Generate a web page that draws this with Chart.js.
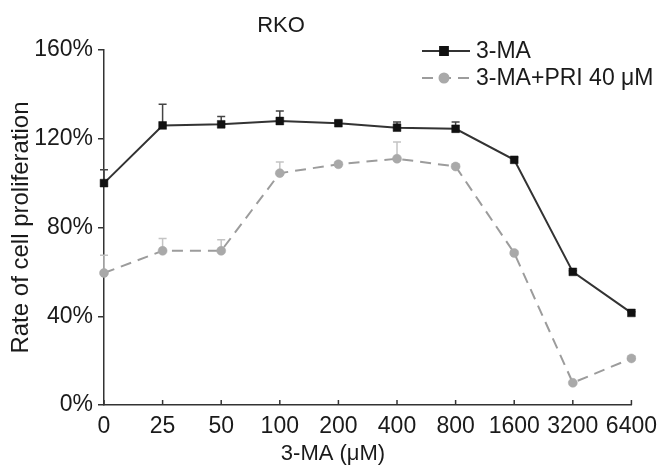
<!DOCTYPE html>
<html>
<head>
<meta charset="utf-8">
<script src="https://cdn.jsdelivr.net/npm/chart.js@4.4.1/dist/chart.umd.min.js"></script>
<style>
  html, body { margin: 0; padding: 0; background: #fff; }
  #wrap { width: 665px; height: 468px; }
</style>
</head>
<body>
<div id="wrap"><canvas id="chart" width="665" height="468"></canvas></div>
<script>
const doses = ['0', '25', '50', '100', '200', '400', '800', '1600', '3200', '6400'];
const maOnly = [100, 126, 126.5, 128, 127, 125, 124.5, 110.5, 60, 41.5];
const maOnlyErr = [6, 9.5, 3.5, 4.5, 1, 2.5, 3, 1, 0.5, 0.5];
const maPri = [59.5, 69.5, 69.5, 104.5, 108.5, 111, 107.5, 68.5, 10, 21];
const maPriErr = [8, 5.5, 5, 5, 1, 7.5, 1, 1, 0.5, 1];
const yTicks = [0, 40, 80, 120, 160];

const FONT = '"Liberation Sans", Arial, sans-serif';
const INK = '#1a1a1a';

// up-only error bars, drawn under the markers
const errorBars = {
  id: 'errorBars',
  beforeDatasetsDraw(chart) {
    const ctx = chart.ctx;
    const y = chart.scales.y;
    chart.data.datasets.forEach((ds, i) => {
      const meta = chart.getDatasetMeta(i);
      ctx.save();
      ctx.strokeStyle = ds.errColor;
      ctx.lineWidth = 1.5;
      meta.data.forEach((pt, j) => {
        const top = y.getPixelForValue(ds.data[j] + ds.errors[j]);
        ctx.beginPath();
        ctx.moveTo(pt.x, pt.y);
        ctx.lineTo(pt.x, top);
        ctx.moveTo(pt.x - 4, top);
        ctx.lineTo(pt.x + 4, top);
        ctx.stroke();
      });
      ctx.restore();
    });
  }
};

// inward x ticks, titles and the floating legend
const extras = {
  id: 'extras',
  afterDraw(chart) {
    const ctx = chart.ctx;
    const x = chart.scales.x;
    ctx.save();
    ctx.strokeStyle = '#333';
    ctx.lineWidth = 1.5;
    x.ticks.forEach((t, i) => {
      const px = x.getPixelForTick(i);
      ctx.beginPath();
      ctx.moveTo(px, x.top);
      ctx.lineTo(px, x.top - 5);
      ctx.stroke();
    });

    ctx.fillStyle = INK;
    ctx.font = '22px ' + FONT;
    ctx.textAlign = 'center';
    ctx.textBaseline = 'alphabetic';
    ctx.fillText('RKO', 281, 32);
    ctx.fillText('3-MA (\u03BCM)', 333, 460);

    const rows = [51, 78];
    chart.data.datasets.forEach((ds, i) => {
      const yy = rows[i];
      ctx.strokeStyle = ds.borderColor;
      ctx.lineWidth = ds.borderWidth;
      ctx.setLineDash(ds.borderDash || []);
      ctx.beginPath();
      ctx.moveTo(422, yy);
      ctx.lineTo(470, yy);
      ctx.stroke();
      ctx.setLineDash([]);
      ctx.fillStyle = ds.pointBackgroundColor;
      ctx.strokeStyle = ds.pointBorderColor;
      Chart.helpers.drawPoint(ctx, {
        pointStyle: ds.pointStyle, radius: ds.pointRadius, rotation: 0, borderWidth: 0.5
      }, 444, yy);
      ctx.fillStyle = INK;
      ctx.font = '23px ' + FONT;
      ctx.textAlign = 'left';
      ctx.textBaseline = 'middle';
      ctx.fillText(ds.label, 476, yy + 1);
    });
    ctx.restore();
  }
};

new Chart(document.getElementById('chart'), {
  type: 'line',
  data: {
    labels: doses,
    datasets: [
      {
        label: '3-MA',
        data: maOnly,
        errors: maOnlyErr,
        errColor: '#444',
        borderColor: '#333',
        borderWidth: 2,
        pointStyle: 'rect',
        pointRadius: 5.5,
        pointBackgroundColor: '#111',
        pointBorderColor: '#111',
        pointBorderWidth: 0.5,
        tension: 0
      },
      {
        label: '3-MA+PRI 40 \u03BCM',
        data: maPri,
        errors: maPriErr,
        errColor: '#c4c4c4',
        borderColor: '#9c9c9c',
        borderWidth: 2,
        borderDash: [11, 7],
        pointStyle: 'circle',
        pointRadius: 4.5,
        pointBackgroundColor: '#a9a9a9',
        pointBorderColor: '#a9a9a9',
        pointBorderWidth: 0.5,
        tension: 0
      }
    ]
  },
  options: {
    responsive: false,
    animation: false,
    layout: { padding: { top: 50, right: 29, left: 0, bottom: 0 } },
    plugins: {
      legend: { display: false },
      tooltip: { enabled: false }
    },
    scales: {
      x: {
        offset: false,
        grid: { display: false, drawTicks: false },
        border: { display: true, color: '#333', width: 1.5 },
        ticks: {
          color: INK,
          font: { family: FONT, size: 23 },
          padding: 8,
          maxRotation: 0,
          autoSkip: false
        },
        afterFit: s => { s.height = 63; }
      },
      y: {
        min: 0,
        max: 160,
        grid: { display: true, drawOnChartArea: false, drawTicks: true, tickLength: 6, color: '#333', lineWidth: 1.5 },
        border: { display: true, color: '#333', width: 1.5 },
        ticks: {
          color: INK,
          font: { family: FONT, size: 23 },
          padding: 5,
          callback: v => v + '%'
        },
        afterBuildTicks: s => { s.ticks = yTicks.map(v => ({ value: v })); },
        title: {
          display: true,
          text: 'Rate of cell proliferation',
          color: INK,
          font: { family: FONT, size: 24 },
          padding: { top: 7, bottom: 0 }
        },
        afterFit: s => { s.width = 104; }
      }
    }
  },
  plugins: [errorBars, extras]
});
</script>
</body>
</html>
